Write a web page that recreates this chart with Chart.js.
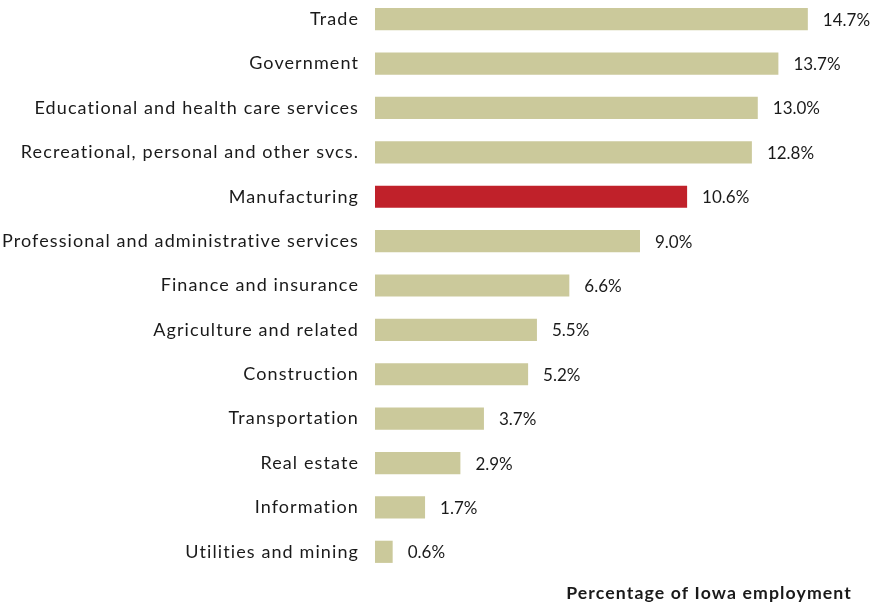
<!DOCTYPE html>
<html>
<head>
<meta charset="utf-8">
<script src="https://cdn.jsdelivr.net/npm/chart.js@4"></script>
<style>
  html, body { margin: 0; padding: 0; background: #fff; overflow: hidden; }
  #wrap { position: relative; width: 884px; height: 609px; margin-top: -3px; }
</style>
</head>
<body>
<div id="wrap"><canvas id="canvas"></canvas></div>
<script>
var labels = ['Trade', 'Government', 'Educational and health care services',
  'Recreational, personal and other svcs.', 'Manufacturing',
  'Professional and administrative services', 'Finance and insurance',
  'Agriculture and related', 'Construction', 'Transportation', 'Real estate',
  'Information', 'Utilities and mining'];
var values = [14.7, 13.7, 13.0, 12.8, 10.6, 9.0, 6.6, 5.5, 5.2, 3.7, 2.9, 1.7, 0.6];
var highlight = 'Manufacturing';

var barColors = labels.map(function (l) { return l === highlight ? '#c0212a' : '#cbc99b'; });

// wider letter spacing for the axis texts, value labels drawn after the bars
var valueLabels = {
  id: 'valueLabels',
  beforeDraw: function (chart) {
    chart.ctx.letterSpacing = '1.1px';
  },
  afterDatasetsDraw: function (chart) {
    var ctx = chart.ctx;
    var meta = chart.getDatasetMeta(0);
    ctx.save();
    ctx.letterSpacing = '0px';
    ctx.font = '17px Lato';
    ctx.fillStyle = '#1a1a1a';
    ctx.textBaseline = 'middle';
    ctx.textAlign = 'left';
    meta.data.forEach(function (bar, i) {
      ctx.fillText(values[i].toFixed(1) + '%', bar.x + 15, bar.y + 1);
    });
    ctx.restore();
  }
};

const ctx = document.getElementById('canvas');
new Chart(ctx, {
  type: 'bar',
  data: {
    labels: labels,
    datasets: [{
      data: values,
      backgroundColor: barColors,
      borderWidth: 0,
      barPercentage: 0.5,
      categoryPercentage: 1.0
    }]
  },
  options: {
    indexAxis: 'y',
    responsive: true,
    maintainAspectRatio: false,
    animation: false,
    layout: { padding: { left: 0, right: 32, top: 0, bottom: 0 } },
    plugins: { legend: { display: false }, tooltip: { enabled: false } },
    scales: {
      x: {
        min: 0,
        max: 16.2,
        grid: { display: false, drawTicks: false },
        border: { display: false },
        ticks: { display: false },
        afterFit: function (s) { s.height = 32; s.paddingLeft = 0; s.paddingRight = 0; },
        title: {
          display: true,
          text: 'Percentage of Iowa employment',
          align: 'end',
          color: '#1a1a1a',
          font: { family: 'Lato', size: 17.7, weight: 'bold' },
          padding: { top: 0, bottom: 2 }
        }
      },
      y: {
        grid: { display: false, drawTicks: false },
        border: { display: false },
        afterFit: function (s) { s.width = 375; s.paddingTop = 0; s.paddingBottom = 0; },
        ticks: {
          padding: 16,
          color: '#1a1a1a',
          font: { family: 'Lato', size: 18 }
        }
      }
    }
  },
  plugins: [valueLabels]
});
</script>
</body>
</html>
